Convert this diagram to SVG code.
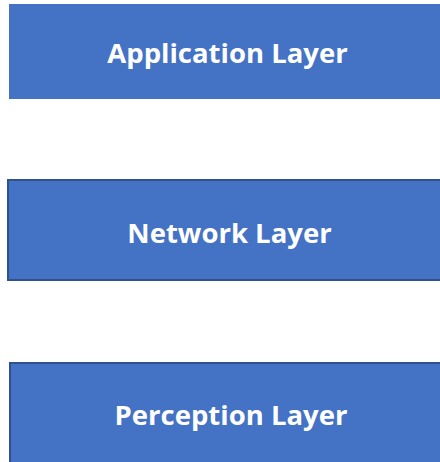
<svg xmlns="http://www.w3.org/2000/svg" width="440" height="462" viewBox="0 0 440 462">
<style>
.box{fill:#4472C4;stroke:#2F528F;stroke-width:2}
.lbl{fill:#FFFFFF;font-family:"Open Sans","Noto Sans","Liberation Sans",sans-serif;font-weight:bold;font-size:27.5px;text-anchor:middle}
</style>
<rect width="440" height="462" fill="#FFFFFF"/>
<g id="application">
<rect x="9" y="4" width="440" height="95" fill="#4472C4" stroke="none"/>
<text class="lbl" x="227.5" y="63">Application Layer</text>
</g>
<g id="network">
<rect class="box" x="8" y="180" width="440" height="100"/>
<text class="lbl" x="229.5" y="243">Network Layer</text>
</g>
<g id="perception">
<rect class="box" x="10" y="363" width="440" height="110"/>
<text class="lbl" x="231" y="425">Perception Layer</text>
</g>
<g id="connectors"></g>
</svg>
